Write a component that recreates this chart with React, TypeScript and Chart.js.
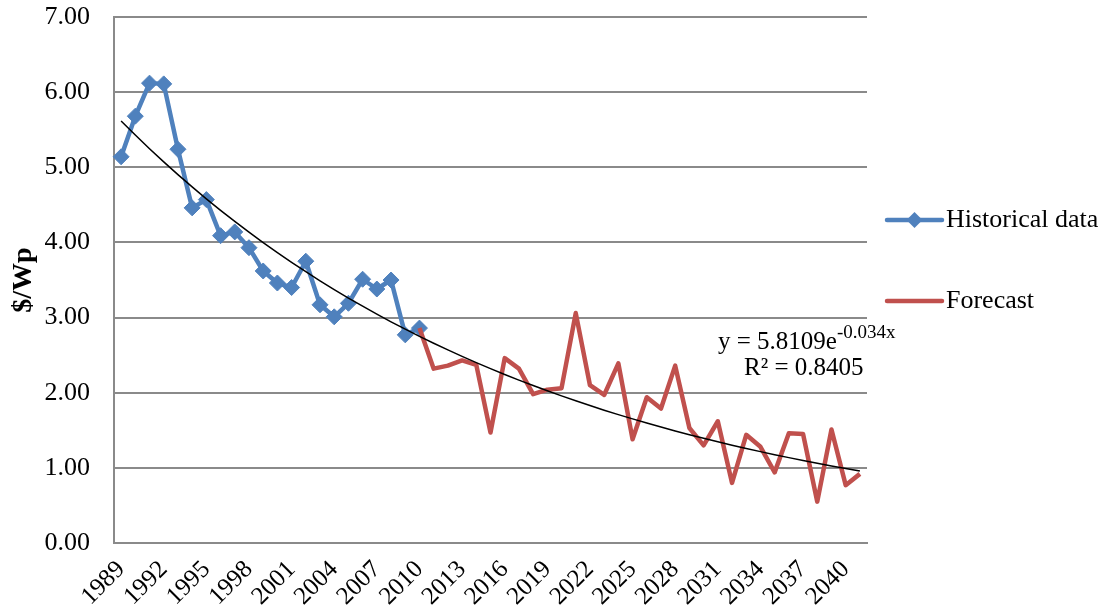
import React, { useEffect, useRef } from 'react';
import { Chart, registerables } from 'chart.js';

Chart.register(...registerables);

const YEARS = [
  '1989', '1990', '1991', '1992', '1993', '1994', '1995', '1996', '1997', '1998',
  '1999', '2000', '2001', '2002', '2003', '2004', '2005', '2006', '2007', '2008',
  '2009', '2010', '2011', '2012', '2013', '2014', '2015', '2016', '2017', '2018',
  '2019', '2020', '2021', '2022', '2023', '2024', '2025', '2026', '2027', '2028',
  '2029', '2030', '2031', '2032', '2033', '2034', '2035', '2036', '2037', '2038',
  '2039', '2040', '2041',
];

// Historical data 1989–2010 ($/Wp)
const HISTORICAL = [
  5.14, 5.68, 6.12, 6.11, 5.24, 4.46, 4.57, 4.09, 4.14, 3.93,
  3.62, 3.46, 3.40, 3.75, 3.17, 3.01, 3.19, 3.51, 3.38, 3.50,
  2.77, 2.86,
];

// Forecast 2010–2041 ($/Wp)
const FORECAST_START = '2010';
const FORECAST = [
  2.86, 2.32, 2.36, 2.43, 2.37, 1.47, 2.46, 2.32, 1.98, 2.04,
  2.06, 3.06, 2.10, 1.97, 2.39, 1.38, 1.94, 1.79, 2.36, 1.53,
  1.30, 1.62, 0.80, 1.44, 1.28, 0.94, 1.46, 1.45, 0.55, 1.51,
  0.77, 0.92,
];

// Exponential trendline shown on the chart: y = 5.8109 e^(-0.034 x)
const TREND_A = 5.8109;
const TREND_B = -0.034;
const TREND_EQ_MAIN = 'y = 5.8109e';
const TREND_EQ_EXP = '-0.034x';
const TREND_R2 = 'R² = 0.8405';

const Y_MIN = 0;
const Y_MAX = 7;
const Y_STEP = 1;
const LABEL_EVERY = 3;

const LEGEND_ITEMS = ['Historical data', 'Forecast'];

const BLUE = '#4F81BD';
const RED = '#C0504D';
const GRID = '#8A8A8A';
const SERIF = "'Liberation Serif', 'Times New Roman', serif";

export default function App() {
  const canvasRef = useRef<HTMLCanvasElement | null>(null);

  useEffect(() => {
    const canvas = canvasRef.current;
    if (!canvas) return;

    const histData = YEARS.map((_, i) => (i < HISTORICAL.length ? HISTORICAL[i] : null));
    const fStart = YEARS.indexOf(FORECAST_START);
    const fcData = YEARS.map((_, i) => {
      const k = i - fStart;
      return k >= 0 && k < FORECAST.length ? FORECAST[k] : null;
    });
    const trendData = YEARS.map((_, i) => TREND_A * Math.exp(TREND_B * (i + 1)));

    const overlay = {
      id: 'overlay',
      afterDraw(chart: any) {
        const { ctx, chartArea } = chart;
        ctx.save();
        // Legend
        const legendX0 = chartArea.right + 20;
        const legendX1 = chartArea.right + 75;
        const legendYs = [220, 301];
        LEGEND_ITEMS.forEach((label, idx) => {
          const ds = chart.data.datasets.find((d: any) => d.label === label);
          if (!ds) return;
          const y = legendYs[idx];
          ctx.strokeStyle = ds.borderColor;
          ctx.lineWidth = ds.borderWidth;
          ctx.lineCap = 'round';
          ctx.beginPath();
          ctx.moveTo(legendX0, y);
          ctx.lineTo(legendX1, y);
          ctx.stroke();
          if (ds.pointRadius > 0) {
            const cx = (legendX0 + legendX1) / 2;
            const r = ds.pointRadius;
            ctx.fillStyle = ds.pointBackgroundColor;
            ctx.beginPath();
            ctx.moveTo(cx, y - r);
            ctx.lineTo(cx + r, y);
            ctx.lineTo(cx, y + r);
            ctx.lineTo(cx - r, y);
            ctx.closePath();
            ctx.fill();
          }
          ctx.fillStyle = '#000';
          ctx.font = `26px ${SERIF}`;
          ctx.textAlign = 'left';
          ctx.textBaseline = 'middle';
          ctx.fillText(label, legendX1 + 4, y);
        });

        // Trendline equation
        ctx.fillStyle = '#000';
        ctx.textBaseline = 'alphabetic';
        ctx.textAlign = 'left';
        ctx.font = `25px ${SERIF}`;
        const eqX = 718;
        const eqY = 349;
        ctx.fillText(TREND_EQ_MAIN, eqX, eqY);
        const w1 = ctx.measureText(TREND_EQ_MAIN).width;
        ctx.font = `19px ${SERIF}`;
        ctx.fillText(TREND_EQ_EXP, eqX + w1, eqY - 11);
        const w2 = ctx.measureText(TREND_EQ_EXP).width;
        ctx.font = `25px ${SERIF}`;
        const center = eqX + (w1 + w2) / 2;
        ctx.textAlign = 'center';
        ctx.fillText(TREND_R2, center - 3, 375);
        ctx.restore();
      },
    };

    const chart = new Chart(canvas, {
      type: 'line',
      data: {
        labels: YEARS,
        datasets: [
          {
            label: 'Trend',
            data: trendData,
            borderColor: '#000000',
            borderWidth: 1.5,
            pointRadius: 0,
            fill: false,
          },
          {
            label: 'Forecast',
            data: fcData,
            borderColor: RED,
            backgroundColor: RED,
            borderWidth: 4.5,
            pointRadius: 0,
            fill: false,
            spanGaps: false,
            borderJoinStyle: 'round',
          },
          {
            label: 'Historical data',
            data: histData,
            borderColor: BLUE,
            backgroundColor: BLUE,
            pointBackgroundColor: BLUE,
            pointBorderColor: BLUE,
            pointBorderWidth: 1,
            pointStyle: 'rectRot',
            pointRadius: 8,
            borderWidth: 4.5,
            fill: false,
            borderJoinStyle: 'round',
          },
        ],
      },
      options: {
        responsive: false,
        animation: false,
        layout: { padding: { top: 17, right: 242, left: 0, bottom: 0 } },
        plugins: {
          legend: { display: false },
          tooltip: { enabled: false },
        },
        scales: {
          x: {
            type: 'category',
            offset: true,
            grid: { display: false, drawTicks: false },
            border: { display: true, color: GRID, width: 2 },
            ticks: {
              autoSkip: false,
              maxRotation: 45,
              minRotation: 45,
              padding: 12,
              color: '#000',
              font: { family: SERIF, size: 25 },
              callback: (_v: any, i: number) => (i % LABEL_EVERY === 0 ? YEARS[i] : ''),
            },
            afterFit: (s: any) => {
              s.height = 71;
            },
          },
          y: {
            min: Y_MIN,
            max: Y_MAX,
            grid: {
              color: GRID,
              lineWidth: 2,
              drawTicks: true,
              tickLength: 24,
              tickColor: 'rgba(0,0,0,0)',
            },
            border: { display: true, color: GRID, width: 2 },
            ticks: {
              stepSize: Y_STEP,
              padding: 0,
              color: '#000',
              font: { family: SERIF, size: 26 },
              callback: (v: any) => Number(v).toFixed(2),
            },
            title: {
              display: true,
              text: '$/Wp',
              color: '#000',
              font: { family: SERIF, size: 28, weight: 'bold', lineHeight: 1.2 },
              padding: { top: 7, bottom: 0 },
            },
            afterFit: (s: any) => {
              s.width = 114;
            },
          },
        },
      },
      plugins: [overlay],
    });

    return () => chart.destroy();
  }, []);

  return (
    <div style={{ position: 'fixed', left: 0, top: 0, width: 1109, height: 614, background: '#fff' }}>
      <canvas ref={canvasRef} width={1109} height={614} />
    </div>
  );
}
